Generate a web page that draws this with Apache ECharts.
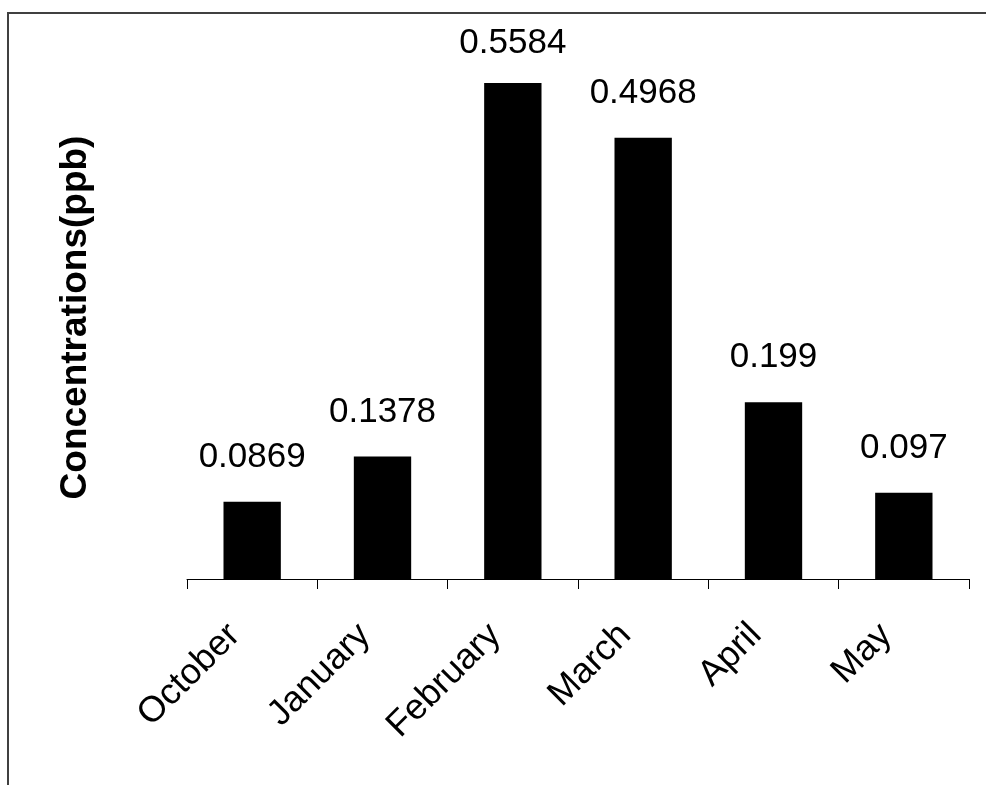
<!DOCTYPE html>
<html>
<head>
<meta charset="utf-8">
<script src="https://cdn.jsdelivr.net/npm/echarts@6/dist/echarts.min.js"></script>
<style>
  html, body { margin: 0; padding: 0; background: #fff; }
  #chart { width: 986px; height: 785px; }
</style>
</head>
<body>
<div id="chart"></div>
<script>
// Monthly concentrations (ppb)
const months = ['October', 'January', 'February', 'March', 'April', 'May'];
const concentrations = [0.0869, 0.1378, 0.5584, 0.4968, 0.199, 0.097];
const valueLabels = ['0.0869', '0.1378', '0.5584', '0.4968', '0.199', '0.097'];

const FONT = '"Liberation Sans", Arial, sans-serif';
const Y_MAX = 0.6;

// Labels of bars that nearly fill the plot height sit a little closer to the bar top
const barData = concentrations.map(v =>
  v > Y_MAX * 0.9 ? { value: v, label: { distance: 22 } } : v
);

const chart = echarts.init(document.getElementById('chart'), null, { renderer: 'canvas' });

chart.setOption({
  backgroundColor: '#ffffff',
  animation: false,
  graphic: [{
    type: 'rect',
    shape: { x: 8, y: 13, width: 1200, height: 1000 },
    style: { fill: 'none', stroke: '#404040', lineWidth: 2 },
    silent: true,
    z: -1
  }],
  grid: { left: 187, right: 17, top: 46, bottom: 206, containLabel: false },
  xAxis: {
    type: 'category',
    data: months,
    boundaryGap: true,
    axisLine: { show: true, lineStyle: { color: '#000', width: 1 } },
    axisTick: { show: true, length: 10, lineStyle: { color: '#000', width: 1 } },
    axisLabel: {
      rotate: 45,
      margin: 33,
      padding: [0, 25, 0, 0],
      color: '#000',
      fontFamily: FONT,
      fontSize: 36,
      interval: 0
    },
    splitLine: { show: false }
  },
  yAxis: {
    type: 'value',
    min: 0,
    max: Y_MAX,
    name: 'Concentrations(ppb)',
    nameLocation: 'middle',
    nameGap: 93,
    nameTextStyle: {
      color: '#000', fontFamily: FONT, fontSize: 37, fontWeight: 'bold',
      padding: [0, 10, 0, 0]
    },
    axisLine: { show: false },
    axisTick: { show: false },
    axisLabel: { show: false },
    splitLine: { show: false }
  },
  series: [{
    type: 'bar',
    data: barData,
    barWidth: '44%',
    itemStyle: { color: '#000' },
    label: {
      show: true,
      position: 'top',
      distance: 27,
      color: '#000',
      fontFamily: FONT,
      fontSize: 35,
      formatter: p => valueLabels[p.dataIndex]
    }
  }]
});
</script>
</body>
</html>
